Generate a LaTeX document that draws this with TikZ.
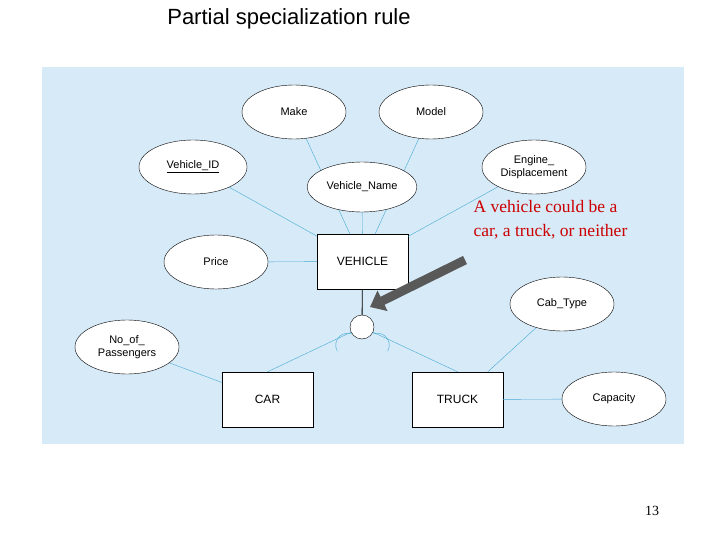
\documentclass[tikz,border=0pt]{standalone}
\usepackage{fontspec}
\setmainfont{Liberation Sans}
\newfontfamily\timesfont{Liberation Serif}
\definecolor{bgblue}{RGB}{214,234,248}
\definecolor{lineblue}{RGB}{70,170,210}
\usetikzlibrary{shapes.geometric,arrows.meta}
\tikzstyle{attr} = [ellipse, draw=black, fill=white, minimum width=104pt, minimum height=54pt, font=\fontsize{11}{13}\selectfont, align=center]
\tikzstyle{entity} = [rectangle, draw=black, fill=white, minimum width=91pt, minimum height=55pt, font=\fontsize{12}{14}\selectfont]
\tikzstyle{link} = [draw=lineblue]
\begin{document}
\begin{tikzpicture}[x=1pt,y=-1pt]
    \useasboundingbox (0,0) rectangle (720,540);
    \fill[bgblue] (42,67) rectangle (684,444);
    \node (title) at (289,19) {\fontsize{22}{26}\selectfont Partial specialization rule};

    \node (vehicle)[entity] at (362.5,261.5) {VEHICLE};
    \node (car)[entity] at (267.5,399.5) {CAR};
    \node (truck)[entity] at (457.5,399.5) {TRUCK};
    \node (disj)[circle, draw=black, fill=white, minimum size=24pt, inner sep=0pt] at (362,327) {};

    \draw [link] (294,112) -- (vehicle);
    \draw [link] (431,112) -- (vehicle);
    \draw [link] (193,167) -- (vehicle);
    \draw [link] (362,187) -- (vehicle);
    \draw [link] (534,167) -- (vehicle);
    \draw [link] (216,262) -- (vehicle);
    \draw [link] (127,347) -- (car);
    \draw [link] (562,304) -- (truck);
    \draw [link] (614,399) -- (truck);
    \draw [link] (disj) -- (car.north);
    \draw [link] (disj) -- (truck.north);
    \draw [thick, black] (vehicle) -- (disj);

    \node (make)[attr] at (294,112) {Make};
    \node (model)[attr] at (431,112) {Model};
    \node (vid)[attr, minimum width=108pt] at (193,167) {\underline{Vehicle\_ID}};
    \node (vname)[attr, minimum width=102pt, minimum height=50pt] at (362,187) {Vehicle\_Name};
    \node (engine)[attr] at (534,167) {Engine\_\\Displacement};
    \node (price)[attr] at (216,262) {Price};
    \node (cab)[attr] at (562,304) {Cab\_Type};
    \node (pass)[attr] at (127,347) {No\_of\_\\Passengers};
    \node (cap)[attr] at (614,399) {Capacity};

    % subset marks
    \draw [lineblue] (340,336) arc (230:150:12);
    \draw [lineblue] (340,336) arc (230:290:12);
    \draw [lineblue] (385,336) arc (-50:30:12);
    \draw [lineblue] (385,336) arc (-50:-110:12);

    \draw [line width=9pt, draw=black!65, -{Triangle[length=14pt,width=22pt]}] (465,260) -- (370,307);

    \node (note)[anchor=north west, align=left, text=red!80!black, font=\timesfont\fontsize{17.5}{24}\selectfont] at (470,197) {A vehicle could be a\\car, a truck, or neither};
    \node (page) at (652,511) {\timesfont\fontsize{14}{16}\selectfont 13};
\end{tikzpicture}
\end{document}
